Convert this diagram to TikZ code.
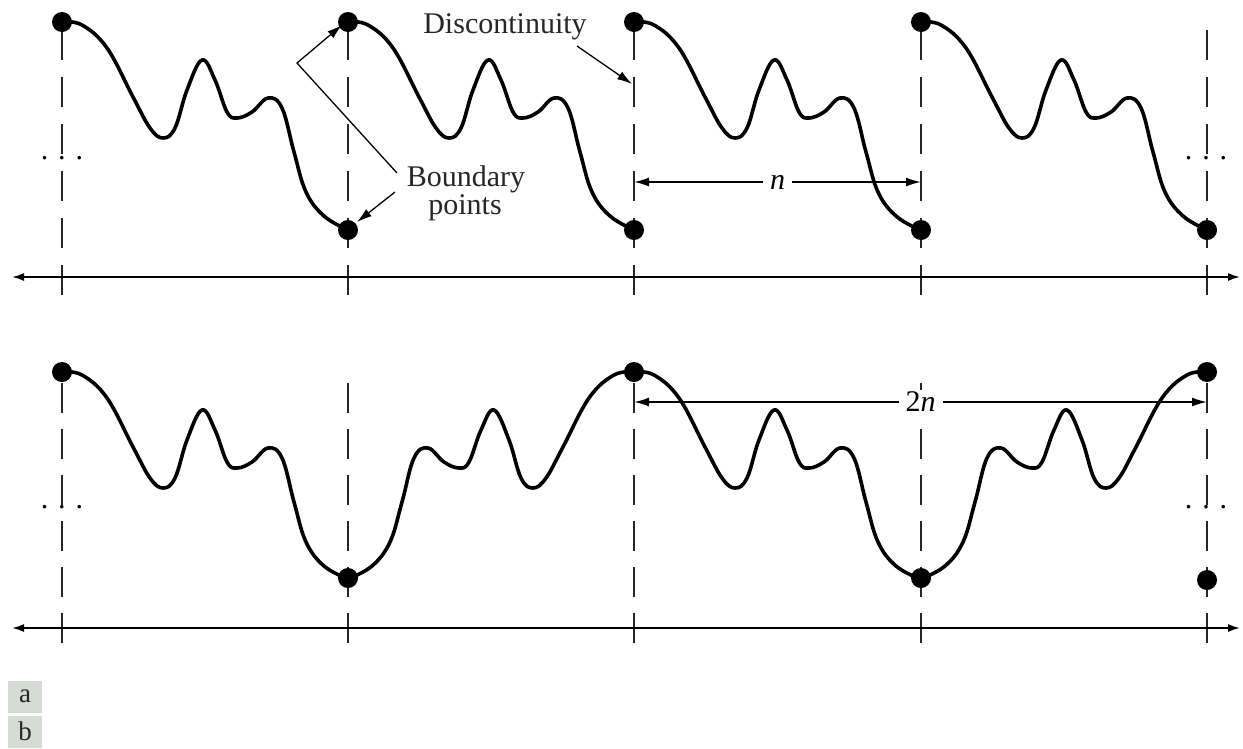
\documentclass[tikz,border=0pt]{standalone}
\usepackage{fontspec}
\setmainfont{Liberation Serif}
\usetikzlibrary{arrows.meta}
\definecolor{tagfill}{RGB}{214,219,214}
\begin{document}
\begin{tikzpicture}[x=1pt,y=-1pt,
  curvestyle/.style={line width=3.6pt, line join=round, line cap=round},
  guide/.style={draw=black!85, line width=2pt, dash pattern=on 30pt off 17pt},
  guideb/.style={draw=black!85, line width=2pt, dash pattern=on 30pt off 16pt},
  axisline/.style={line width=1.8pt, {Latex[length=12pt,width=8pt]}-{Latex[length=12pt,width=8pt]}},
  bdot/.style={circle, fill=black, inner sep=0pt, minimum size=20pt},
  note/.style={font=\fontsize{30}{25}\selectfont, text=black!85},
  pointer/.style={line width=1.3pt, line join=miter, -{Latex[length=15pt,width=9pt]}},
  dim/.style={line width=1.7pt, {Latex[length=15pt,width=9pt]}-{Latex[length=15pt,width=9pt]}},
  dimlabel/.style={fill=white, inner xsep=7pt, inner ysep=2pt, font=\fontsize{30}{30}\selectfont},
  tag/.style={fill=tagfill, minimum width=34pt, minimum height=32pt, inner sep=0pt, text=black!85, font=\fontsize{27}{27}\selectfont}
]
\useasboundingbox (0,0) rectangle (1243,748);

% ---------- top panel ----------
\foreach \xo in {62,348,634,921,1207} {
  \draw[guide] (\xo,30) -- (\xo,295);
}
\draw[axisline] (12,277) -- (1240,277);
\foreach \xo in {62,348,634,921} {
  \draw[curvestyle, shift={(\xo,0)}] plot[smooth, tension=0.65] coordinates {
    (0,22) (20,25) (45,48) (71,97) (88,128) (101,138) (113,128) (125,90)
    (140,60) (153,80) (165,112) (175,118) (190,112) (206,98) (220,108)
    (232,152) (244,192) (262,216) (286,230)};
}
\node[bdot] (t1) at (62,22) {};
\node[bdot] (t2) at (348,22) {};
\node[bdot] (t3) at (634,22) {};
\node[bdot] (t4) at (921,22) {};
\node[bdot] (b2) at (348,230) {};
\node[bdot] (b3) at (634,230) {};
\node[bdot] (b4) at (921,230) {};
\node[bdot] (b5) at (1207,230) {};

\node[note, anchor=base] (disc) at (505,33) {Discontinuity};
\coordinate (discS) at (577,46);
\coordinate (discT) at (632,84);
\draw[pointer] (discS) -- (discT);

\node[note, anchor=base] (bnd) at (466,186) {Boundary};
\node[note, anchor=base] (pts) at (465,214) {points};
\coordinate (vtx) at (297,63);
\coordinate (bndA) at (397,173);
\coordinate (bndB) at (395,192);
\coordinate (tipU) at (342,25);
\coordinate (tipL) at (357,222);
\draw[pointer] (bndA) -- (vtx) -- (tipU);
\draw[pointer] (bndB) -- (tipL);

\coordinate (nL) at (634,182);
\coordinate (nR) at (921,182);
\draw[dim] (nL) -- node[dimlabel] (nlab) {\textit{n}} (nR);

\node[font=\fontsize{30}{30}\selectfont] (dl1) at (62,158) {.\,\,.\,\,.};
\node[font=\fontsize{30}{30}\selectfont] (dr1) at (1206,158) {.\,\,.\,\,.};

% ---------- bottom panel ----------
\foreach \xo in {62,348,634,921,1207} {
  \draw[guideb] (\xo,383) -- (\xo,643);
}
\draw[axisline] (12,628) -- (1240,628);
\foreach \xo in {62,634} {
  \draw[curvestyle, shift={(\xo,350)}] plot[smooth, tension=0.65] coordinates {
    (0,22) (20,25) (45,48) (71,97) (88,128) (101,138) (113,128) (125,90)
    (140,60) (153,80) (165,112) (175,118) (190,112) (206,98) (220,108)
    (232,152) (244,192) (262,216) (286,229)};
}
\foreach \xe in {634,1207} {
  \draw[curvestyle, shift={(\xe,350)}, xscale=-1] plot[smooth, tension=0.65] coordinates {
    (0,22) (20,25) (45,48) (71,97) (88,128) (101,138) (113,128) (125,90)
    (140,60) (153,80) (165,112) (175,118) (190,112) (206,98) (220,108)
    (232,152) (244,192) (262,216) (286,229)};
}
\node[bdot] (u1) at (62,372) {};
\node[bdot] (u3) at (634,372) {};
\node[bdot] (u5) at (1207,372) {};
\node[bdot] (l2) at (348,578) {};
\node[bdot] (l4) at (921,578) {};
\node[bdot] (l5) at (1207,580) {};

\coordinate (mL) at (634,402);
\coordinate (mR) at (1207,402);
\draw[dim] (mL) -- node[dimlabel] (mlab) {2\textit{n}} (mR);

\node[font=\fontsize{30}{30}\selectfont] (dl2) at (62,507) {.\,\,.\,\,.};
\node[font=\fontsize{30}{30}\selectfont] (dr2) at (1206,507) {.\,\,.\,\,.};

% ---------- tags ----------
\node[tag] (ta) at (25,696.5) {a};
\node[tag] (tb) at (25,731.5) {b};
\end{tikzpicture}
\end{document}
